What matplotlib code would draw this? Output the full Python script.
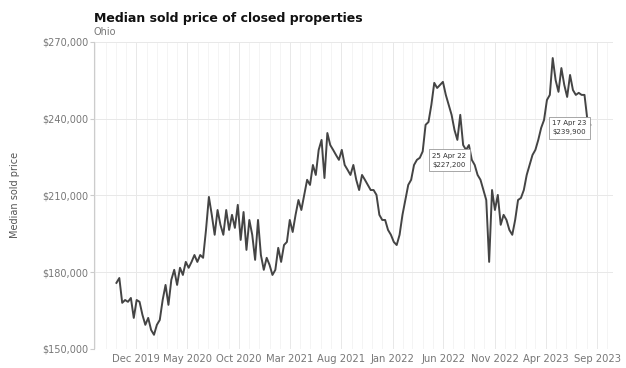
import matplotlib
matplotlib.use("Agg")
import matplotlib.pyplot as plt
import matplotlib.dates as mdates
import matplotlib.ticker as mticker
import pandas as pd

# median sold price (dollars)
prices = [
    175800, 177700, 168000, 169100, 168400, 169900, 162100, 169100, 168400, 163300,
    159400, 162100, 157400, 155500, 159400, 161300, 169100, 175000, 167200, 177000,
    180900, 175000, 181700, 178900, 184000, 181700, 184000, 186700, 184000, 186700,
    185600, 196500, 209400, 202400, 194600, 204300, 198500, 194600, 204300, 196500,
    202400, 197300, 206300, 192600, 203500, 188700, 200400, 194600, 184800, 200400,
    186700, 180900, 185600, 182800, 178900, 180900, 189500, 184000, 190600, 191800,
    200400, 195700, 202400, 208200, 204300, 210200, 216100, 214100, 221900, 218000,
    227800, 231700, 216800, 234400, 229700, 227800, 225800, 223900, 227800, 221900,
    220000, 218000, 221900, 216100, 212100, 218000, 216100, 214100, 212100, 212100,
    210200, 202400, 200400, 200400, 196500, 194600, 191800, 190600, 194600, 202400,
    208200, 214100, 216100, 221900, 223900, 224700, 227200, 237600, 238700, 245400,
    254000, 252000, 253200, 254400, 249300, 245400, 241500, 235600, 231700, 241500,
    229700, 227800, 229700, 223900, 221900, 218000, 216100, 212100, 208200, 184000,
    212100, 204300, 210200, 198500, 202400, 200400, 196500, 194600, 200400, 208200,
    209000, 212100, 218000, 221900, 225800, 227800, 231700, 236400, 239500, 247300,
    249300, 263700, 255100, 250500, 259800, 253200, 248500, 257100, 251200, 249300,
    250100, 249300, 249300, 239500, 237600,
]
dates = pd.date_range("2019-10-03", "2023-08-12", periods=len(prices))

tick_dates = pd.to_datetime(["2019-12-01", "2020-05-01", "2020-10-01", "2021-03-01",
                             "2021-08-01", "2022-01-01", "2022-06-01", "2022-11-01",
                             "2023-04-01", "2023-09-01"])

# labelled points
ann_dates = pd.to_datetime(["2022-04-25", "2023-04-17"])
ann_prices = [227200, 239900]

fig = plt.figure(figsize=(6.26, 3.68), dpi=100)
ax = fig.add_axes([0.150, 0.052, 0.83, 0.834])

ax.plot(dates, prices, color="#444444", lw=1.4)

for d, p in zip(ann_dates, ann_prices):
    ax.annotate(d.strftime("%d %b %y") + "\n" + "${:,.0f}".format(p),
                xy=(d, p), xytext=(1, -1), textcoords="offset points",
                ha="left", va="top", fontsize=5, color="#333333", linespacing=1.6,
                bbox=dict(boxstyle="square,pad=0.5", fc="white", ec="#999999", lw=0.6))

ax.set_ylim(150000, 270000)
ax.set_yticks([150000, 180000, 210000, 240000, 270000])
ax.yaxis.set_major_formatter(mticker.StrMethodFormatter("${x:,.0f}"))
ax.set_xlim(pd.Timestamp("2019-07-28"), pd.Timestamp("2023-10-20"))
ax.set_xticks(tick_dates)
ax.xaxis.set_major_formatter(mdates.DateFormatter("%b %Y"))
ax.xaxis.set_minor_locator(mdates.MonthLocator())

ax.grid(True, which="major", color="#e8e8e8", lw=0.7)
ax.grid(True, which="minor", axis="x", color="#f3f3f3", lw=0.6)
ax.set_axisbelow(True)
for s in ["top", "right", "bottom"]:
    ax.spines[s].set_visible(False)
ax.spines["left"].set_color("#cccccc")
ax.tick_params(axis="y", labelsize=7, colors="#777777", length=3, color="#cccccc", pad=1)
ax.tick_params(axis="x", which="both", labelsize=7.2, colors="#777777", length=0, pad=4)

ax.set_ylabel("Median sold price", fontsize=7, color="#555555", labelpad=16)
fig.text(0.150, 0.94, "Median sold price of closed properties", fontsize=9,
         fontweight="bold", color="#111111", ha="left", va="baseline")
fig.text(0.150, 0.905, "Ohio", fontsize=7, color="#777777", ha="left", va="baseline")

fig.savefig("out.png", dpi=100)
